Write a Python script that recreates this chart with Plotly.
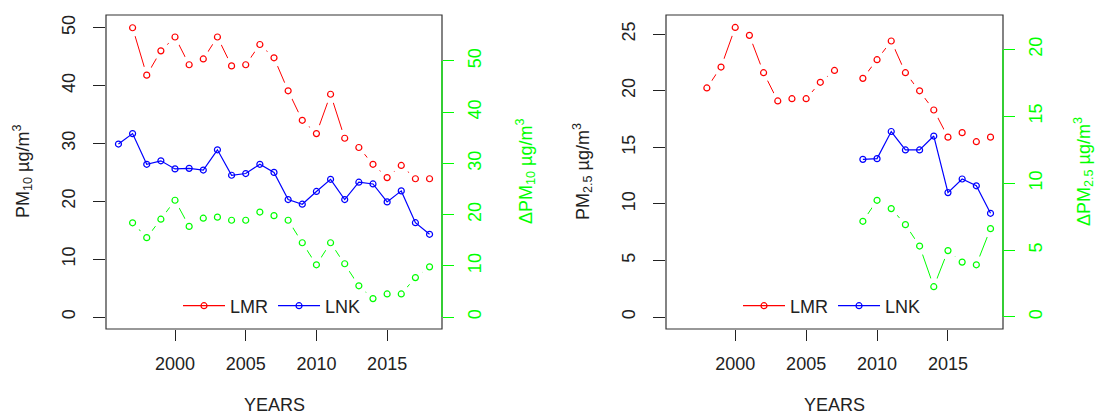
import plotly.graph_objects as go

# ---------------- data ----------------
years = list(range(1996, 2019))
pm10_lmr = [None, 50.0, 41.8, 46.0, 48.4, 43.6, 44.6, 48.4, 43.4, 43.6, 47.1, 44.8,
            39.1, 34.0, 31.7, 38.5, 30.9, 29.3, 26.4, 24.1, 26.2, 23.9, 23.9]
pm10_lnk = [29.9, 31.7, 26.4, 27.0, 25.6, 25.7, 25.4, 28.9, 24.5, 24.8, 26.4, 25.0,
            20.3, 19.5, 21.7, 23.8, 20.3, 23.3, 23.0, 19.9, 21.8, 16.3, 14.3]
pm10_diff = [None, 18.4, 15.5, 19.1, 22.8, 17.7, 19.3, 19.5, 18.9, 18.9, 20.5, 19.8,
             18.9, 14.5, 10.2, 14.5, 10.4, 6.1, 3.6, 4.5, 4.5, 7.7, 9.8]

pm25_lmr = [None, None, 20.25, 22.1, 25.6, 24.9, 21.6, 19.1, 19.3, 19.3, 20.75, 21.8,
            None, 21.1, 22.75, 24.4, 21.6, 20.0, 18.3, 15.9, 16.3, 15.5, 15.9]
pm25_lnk = [None] * 13 + [13.94, 14.0, 16.4, 14.77, 14.77, 16.0, 11.0, 12.2, 11.6, 9.17]
pm25_diff = [None] * 13 + [7.15, 8.72, 8.1, 6.9, 5.3, 2.26, 4.96, 4.1, 3.9, 6.6]

x_ticks = [2000, 2005, 2010, 2015]
pm10_ticks = [0, 10, 20, 30, 40, 50]
pm10_diff_ticks = [0, 10, 20, 30, 40, 50]
pm25_ticks = [0, 5, 10, 15, 20, 25]
pm25_diff_ticks = [0, 5, 10, 15, 20]

series_names = ["LMR", "LNK"]
x_title = "YEARS"
pm10_title = "PM<sub>10</sub> µg/m<sup>3</sup>"
pm10_diff_title = "ΔPM<sub>10</sub> µg/m<sup>3</sup>"
pm25_title = "PM<sub>2.5</sub> µg/m<sup>3</sup>"
pm25_diff_title = "ΔPM<sub>2.5</sub> µg/m<sup>3</sup>"

# ---------------- style ----------------
RED, BLUE, GREEN = "#FF0000", "#0000FF", "#00FF00"
FONT = "Liberation Sans, Arial, sans-serif"
FS = 18
W, H = 1095, 418
MSIZE = 6
MASK = 18

fig = go.Figure()


def type_b(x, y, color, xa, ya):
    # R type="b": line with gaps around points (line, white mask, open markers)
    fig.add_trace(go.Scatter(x=x, y=y, mode="lines", line=dict(color=color, width=1),
                             xaxis=xa, yaxis=ya, showlegend=False, hoverinfo="skip"))
    fig.add_trace(go.Scatter(x=x, y=y, mode="markers",
                             marker=dict(symbol="circle", size=MASK, color="white", line=dict(width=0)),
                             xaxis=xa, yaxis=ya, showlegend=False, hoverinfo="skip"))
    fig.add_trace(go.Scatter(x=x, y=y, mode="markers",
                             marker=dict(symbol="circle-open", size=MSIZE, color=color, line=dict(width=1.2)),
                             xaxis=xa, yaxis=ya, showlegend=False))


def type_o(x, y, color, xa, ya, name, legend):
    fig.add_trace(go.Scatter(x=x, y=y, mode="lines+markers", line=dict(color=color, width=1.2),
                             marker=dict(symbol="circle-open", size=MSIZE, color=color, line=dict(width=1.2)),
                             xaxis=xa, yaxis=ya, name=name, legend=legend))


def legend_entry(color, xa, ya, name, legend):
    fig.add_trace(go.Scatter(x=[None], y=[None], mode="lines+markers", line=dict(color=color, width=1.2),
                             marker=dict(symbol="circle-open", size=MSIZE, color=color, line=dict(width=1.2)),
                             xaxis=xa, yaxis=ya, name=name, legend=legend))


# left panel
legend_entry(RED, "x", "y", series_names[0], "legend")
type_b(years, pm10_lmr, RED, "x", "y")
type_o(years, pm10_lnk, BLUE, "x", "y", series_names[1], "legend")
type_b(years, pm10_diff, GREEN, "x", "y2")

# right panel
legend_entry(RED, "x2", "y3", series_names[0], "legend2")
type_b(years, pm25_lmr, RED, "x2", "y3")
type_o(years, pm25_lnk, BLUE, "x2", "y3", series_names[1], "legend2")
type_b(years, pm25_diff, GREEN, "x2", "y4")

# plot-area geometry (pixels)
L1, R1 = 106, 442
L2, R2 = 666, 1003
TOP, BOT = 15, 329
ydom = [(H - BOT) / H, (H - TOP) / H]

xrange = [1995.12, 2018.88]

xcommon = dict(range=xrange, tickvals=x_ticks, ticks="outside", ticklen=11, tickwidth=1,
               tickcolor="#222", showline=False, showgrid=False, zeroline=False,
               tickfont=dict(family=FONT, size=FS, color="#222"), ticklabelstandoff=7)
ycommon = dict(ticks="outside", ticklen=12, tickwidth=1, tickcolor="#222", showline=False,
               showgrid=False, zeroline=False, tickangle=-90,
               tickfont=dict(family=FONT, size=FS, color="#222"), ticklabelstandoff=11)
gcommon = dict(ticks="outside", ticklen=11, tickwidth=1, tickcolor=GREEN, showline=False,
               showgrid=False, zeroline=False, tickangle=-90, side="right",
               tickfont=dict(family=FONT, size=FS, color=GREEN), ticklabelstandoff=5)

legend_style = dict(orientation="h", xanchor="left", y=(H - 306) / H, yanchor="middle",
                    bgcolor="rgba(0,0,0,0)", font=dict(family=FONT, size=FS, color="#222"),
                    itemclick=False, itemwidth=42)

fig.update_layout(
    width=W, height=H,
    margin=dict(l=0, r=0, t=0, b=0),
    paper_bgcolor="white", plot_bgcolor="white",
    xaxis=dict(domain=[L1 / W, R1 / W], anchor="y", **xcommon),
    xaxis2=dict(domain=[L2 / W, R2 / W], anchor="y3", **xcommon),
    yaxis=dict(domain=ydom, anchor="x", range=[-2.07, 52.2], tickvals=pm10_ticks, **ycommon),
    yaxis2=dict(overlaying="y", anchor="x", range=[-2.34, 58.98], tickvals=pm10_diff_ticks, **gcommon),
    yaxis3=dict(domain=ydom, anchor="x2", range=[-1.06, 26.7], tickvals=pm25_ticks, **ycommon),
    yaxis4=dict(overlaying="y3", anchor="x2", range=[-0.9, 22.57], tickvals=pm25_diff_ticks, **gcommon),
    legend=dict(x=(L1 + 72) / W, **legend_style),
    legend2=dict(x=(L2 + 72) / W, **legend_style),
    showlegend=True,
)

# boxes and green axis lines
for xr, yr in (("x domain", "y domain"), ("x2 domain", "y3 domain")):
    fig.add_shape(type="rect", xref=xr, yref=yr, x0=0, x1=1, y0=0, y1=1,
                  line=dict(color="#333", width=1.2), layer="above")
fig.add_shape(type="line", xref="x domain", yref="y2", x0=1, x1=1,
              y0=min(pm10_diff_ticks), y1=max(pm10_diff_ticks), line=dict(color=GREEN, width=1.2))
fig.add_shape(type="line", xref="x2 domain", yref="y4", x0=1, x1=1,
              y0=min(pm25_diff_ticks), y1=max(pm25_diff_ticks), line=dict(color=GREEN, width=1.2))


# axis titles
def ann(text, x, y, angle=0, color="#222"):
    fig.add_annotation(text=text, x=x / W, y=(H - y) / H, xref="paper", yref="paper",
                       showarrow=False, textangle=angle, xanchor="center", yanchor="middle",
                       font=dict(family=FONT, size=FS, color=color))


ann(x_title, (L1 + R1) / 2, 405)
ann(x_title, (L2 + R2) / 2, 405)
ann(pm10_title, 22, (TOP + BOT) / 2, -90)
ann(pm25_title, 582, (TOP + BOT) / 2, -90)
ann(pm10_diff_title, 525, (TOP + BOT) / 2, -90, GREEN)
ann(pm25_diff_title, 1083, (TOP + BOT) / 2, -90, GREEN)

fig.write_html("out.html", config={"displayModeBar": False},
               post_script="document.body.style.margin='0';")
